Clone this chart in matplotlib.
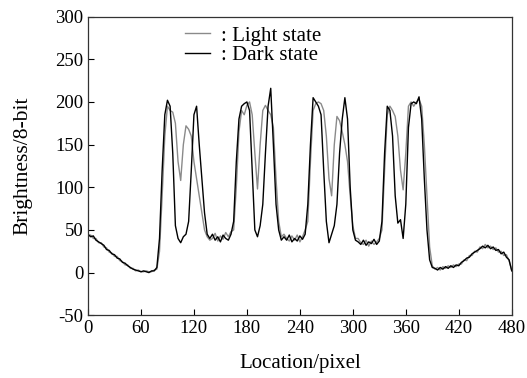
import numpy as np
import matplotlib
matplotlib.use("Agg")
import matplotlib.pyplot as plt

plt.rcParams['font.family'] = ['Liberation Serif', 'DejaVu Serif']
plt.rcParams['axes.unicode_minus'] = False

# location grid (every 3 pixels)
location = np.arange(0, 481, 3)

# brightness
dark_state = [
    45, 42, 43, 38, 36, 34, 32, 27, 26, 22, 21, 17, 16, 12, 11, 8, 6, 4, 3, 2, 1, 2, 1, 0, 2, 2,
    6, 40, 120, 185, 202, 195, 140, 55, 40, 35, 42, 45, 60, 120, 185, 195, 150, 110, 70, 45, 40,
    45, 38, 42, 36, 44, 40, 38, 45,
    60, 130, 180, 195, 198, 200, 190, 120, 50, 42, 55, 80, 140, 195, 216, 150, 80, 50, 38,
    42, 38, 44, 36, 40, 37, 43, 39, 45,
    80, 150, 205, 200, 195, 185, 120, 60, 35, 45, 55, 80, 140, 180, 205, 180, 100, 50, 38,
    36, 33, 38, 32, 36, 34, 39, 33, 37,
    60, 140, 195, 190, 160, 90, 58, 62, 40, 80, 170, 198, 200, 198, 206, 180, 110, 50, 15, 6,
    5, 3, 6, 4, 7, 5, 8, 6, 9, 8, 12, 14, 17, 18, 22, 24, 26, 28, 31, 29, 32, 28, 30, 26, 27,
    22, 24, 18, 15, 2,
]
light_state = [
    43, 44, 40, 40, 35, 35, 30, 29, 24, 23, 19, 19, 14, 13, 9, 9, 5, 5, 2, 3, 1, 1, 2, 1, 1, 3,
    4, 25, 90, 160, 195, 190, 188, 175, 130, 108, 150, 172, 168, 160, 130, 110, 90, 70, 50, 42, 38,
    40, 46, 37, 43, 39, 47, 42, 48,
    50, 100, 165, 190, 185, 196, 200, 185, 140, 98, 150, 190, 196, 190, 185, 170, 110, 60, 42,
    45, 40, 37, 43, 38, 44, 36, 42, 50,
    60, 130, 190, 198, 200, 198, 190, 160, 110, 90, 150, 183, 178, 165, 150, 130, 90, 55, 40,
    40, 35, 33, 38, 31, 37, 33, 36, 40,
    50, 120, 185, 195, 190, 183, 160, 120, 97, 140, 195, 200, 195, 200, 203, 195, 150, 90, 30, 8,
    4, 6, 3, 7, 5, 8, 6, 9, 7, 10, 10, 15, 14, 20, 20, 25, 24, 30, 28, 33, 29, 31, 27, 29, 24,
    25, 20, 21, 14, 3,
]

fig = plt.figure(figsize=(5.27, 3.78), dpi=100)
ax = fig.add_axes([0.167, 0.166, 0.804, 0.790])

ax.plot(location, light_state, color='#8a8a8a', lw=1.0, label=': Light state')
ax.plot(location, dark_state, color='black', lw=1.0, label=': Dark state')

ax.set_xlim(0, 480)
ax.set_ylim(-50, 300)
ax.set_xticks(range(0, 481, 60))
ax.set_yticks(range(-50, 301, 50))
ax.tick_params(direction='in', length=4, labelsize=13.5, top=False, right=False)
for s in ax.spines.values():
    s.set_linewidth(0.9)
    s.set_color('#333333')

ax.set_xlabel('Location/pixel', fontsize=15, labelpad=12)
ax.set_ylabel('Brightness/8-bit', fontsize=15.5, labelpad=16)

ax.legend(loc='upper left', bbox_to_anchor=(0.2, 1.01), frameon=False,
          fontsize=15, handlelength=1.2, handletextpad=0.5,
          labelspacing=0.0, borderaxespad=0.2)

fig.savefig('out.png', dpi=100)
